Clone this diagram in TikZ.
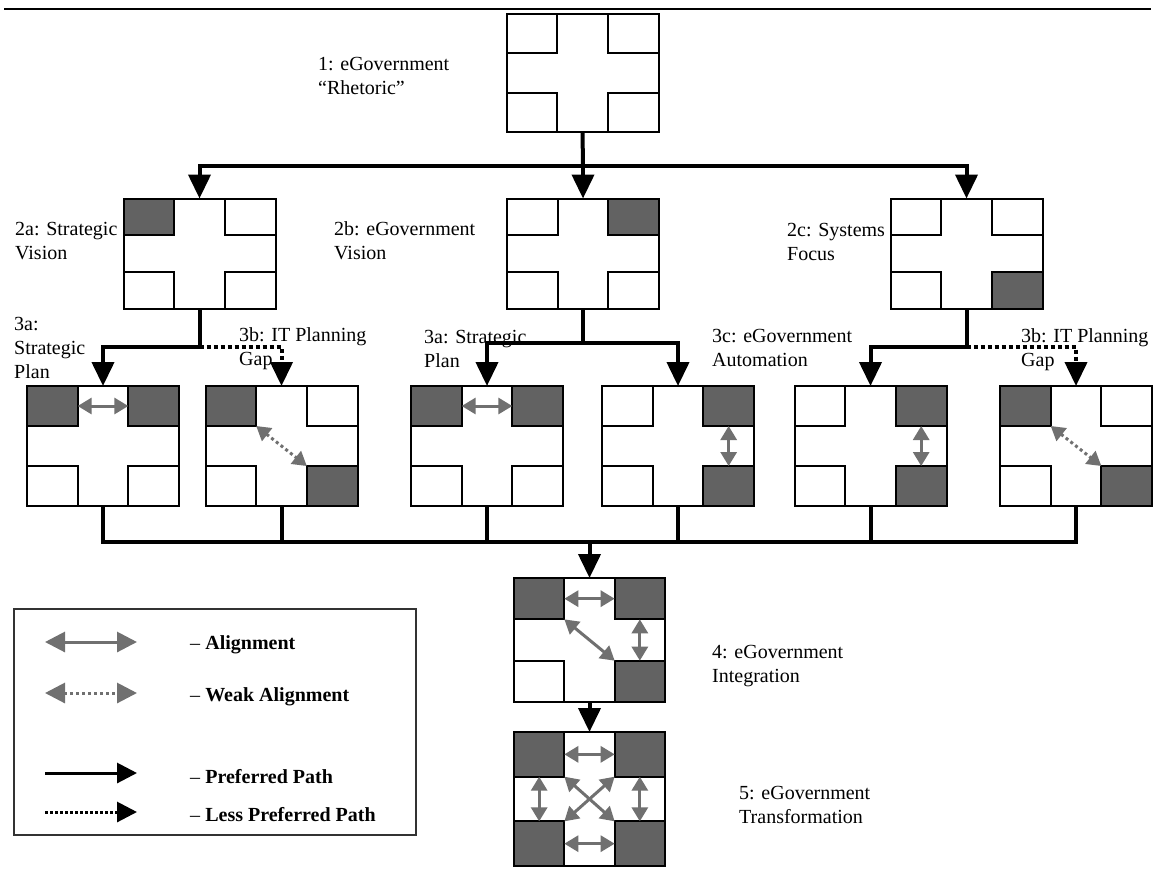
\documentclass[tikz,border=0pt]{standalone}
\usepackage{fontspec}
\setmainfont{Liberation Serif}
\usetikzlibrary{arrows.meta,calc,fit}

\definecolor{cellgray}{RGB}{98,98,98}
\definecolor{arrowgray}{RGB}{112,112,112}

\tikzset{
  qbox/.style={draw, line width=2pt, fill=white, inner sep=0pt, outer sep=0pt, minimum width=152pt},
  cell/.style={draw, line width=2pt, inner sep=0pt, outer sep=0pt},
  trunk/.style={line width=4pt},
  prefpath/.style={trunk, -{Triangle[length=24pt,width=22pt]}},
  lesspath/.style={prefpath, dash pattern=on 4pt off 3pt},
  alignarr/.style={draw=arrowgray, line width=3pt, {Triangle[length=14pt,width=16pt]}-{Triangle[length=14pt,width=16pt]}},
  weakarr/.style={alignarr, dash pattern=on 3pt off 3pt},
  lbl/.style={anchor=west, inner sep=0pt, align=left, font=\fontsize{20}{24}\selectfont},
}

% four corner cells of a box: name, then fills tl tr bl br
\newcommand{\corners}[5]{%
  \node[cell, fill=#2, fit={(#1.north west) ($(#1.north west)!1/3!(#1.south east)$)}] (#1-tl) {};
  \node[cell, fill=#3, fit={(#1.north east) ($(#1.north east)!1/3!(#1.south west)$)}] (#1-tr) {};
  \node[cell, fill=#4, fit={(#1.south west) ($(#1.south west)!1/3!(#1.north east)$)}] (#1-bl) {};
  \node[cell, fill=#5, fit={(#1.south east) ($(#1.south east)!1/3!(#1.north west)$)}] (#1-br) {};
}

\begin{document}
\begin{tikzpicture}[x=1pt,y=-1pt]
\useasboundingbox (0,0) rectangle (1155,868);
\draw[line width=1.2pt] (4,9) -- (1151,9);

% level 1 - rhetoric
\node[qbox, minimum height=118pt] (rhet) at (582.5,73) {};
\corners{rhet}{white}{white}{white}{white}
\node[lbl] (lrhet) at (318,75.5) {1: eGovernment\\“Rhetoric”};

% level 2
\node[qbox, minimum height=110pt] (sv) at (199.5,253.5) {};
\corners{sv}{cellgray}{white}{white}{white}
\node[qbox, minimum height=110pt] (gv) at (583,253.5) {};
\corners{gv}{white}{cellgray}{white}{white}
\node[qbox, minimum height=110pt] (sf) at (966.5,253.5) {};
\corners{sf}{white}{white}{white}{cellgray}
\node[lbl] (lsv) at (15,241) {2a: Strategic\\Vision};
\node[lbl] (lgv) at (334,241) {2b: eGovernment\\Vision};
\node[lbl] (lsf) at (787,242) {2c: Systems\\Focus};

% level 3
\node[qbox, minimum height=120pt] (sp1) at (103,446) {};
\corners{sp1}{cellgray}{cellgray}{white}{white}
\node[qbox, minimum height=120pt] (itg1) at (281.5,446) {};
\corners{itg1}{cellgray}{white}{white}{cellgray}
\node[qbox, minimum height=120pt] (sp2) at (487,446) {};
\corners{sp2}{cellgray}{cellgray}{white}{white}
\node[qbox, minimum height=120pt] (auto2) at (678,446) {};
\corners{auto2}{white}{cellgray}{white}{cellgray}
\node[qbox, minimum height=120pt] (auto3) at (870.5,446) {};
\corners{auto3}{white}{cellgray}{white}{cellgray}
\node[qbox, minimum height=120pt] (itg3) at (1076,446) {};
\corners{itg3}{cellgray}{white}{white}{cellgray}
\draw[alignarr] (sp1-tl.east) -- (sp1-tr.west);
\draw[weakarr] (itg1-tl.south east) -- (itg1-br.north west);
\draw[alignarr] (sp2-tl.east) -- (sp2-tr.west);
\draw[alignarr] (auto2-tr.south) -- (auto2-br.north);
\draw[alignarr] (auto3-tr.south) -- (auto3-br.north);
\draw[weakarr] (itg3-tl.south east) -- (itg3-br.north west);
\node[lbl] (lsp1) at (14,348) {3a:\\Strategic\\Plan};
\node[lbl] (litg1) at (239,348.5) {3b: IT Planning\\Gap};
\node[lbl] (lsp2) at (424,349) {3a: Strategic\\Plan};
\node[lbl] (lauto) at (712,348) {3c: eGovernment\\Automation};
\node[lbl] (litg3) at (1021,349.5) {3b: IT Planning\\Gap};

% level 4 and 5
\node[qbox, minimum width=151pt, minimum height=124pt] (integ) at (589.5,640) {};
\corners{integ}{cellgray}{cellgray}{white}{cellgray}
\draw[alignarr] (integ-tl.east) -- (integ-tr.west);
\draw[alignarr] (integ-tr.south) -- (integ-br.north);
\draw[alignarr] (integ-tl.south east) -- (integ-br.north west);
\node[lbl] (linteg) at (712,666.5) {4: eGovernment\\Integration};

\node[qbox, minimum width=151pt, minimum height=134pt] (trans) at (589.5,799) {};
\corners{trans}{cellgray}{cellgray}{cellgray}{cellgray}
\draw[alignarr] (trans-tl.east) -- (trans-tr.west);
\draw[alignarr] (trans-bl.east) -- (trans-br.west);
\draw[alignarr] (trans-tl.south) -- (trans-bl.north);
\draw[alignarr] (trans-tr.south) -- (trans-br.north);
\draw[alignarr] (trans-tl.south east) -- (trans-br.north west);
\draw[alignarr] (trans-tr.south west) -- (trans-bl.north east);
\node[lbl] (ltrans) at (739,804.5) {5: eGovernment\\Transformation};

% paths
\coordinate (j1) at (583,166);
\draw[trunk] (rhet.south) -- (j1);
\draw[prefpath] (j1) -| (sv.north);
\draw[prefpath] (j1) -- (gv.north);
\draw[prefpath] (j1) -| (sf.north);

\coordinate (j2) at (199.5,347);
\draw[trunk] (sv.south) -- (j2);
\draw[prefpath] (j2) -| (sp1.north);
\draw[lesspath] (j2) -| (itg1.north);

\coordinate (j3) at (583,343);
\draw[trunk] (gv.south) -- (j3);
\draw[prefpath] (j3) -| (sp2.north);
\draw[prefpath] (j3) -| (auto2.north);

\coordinate (j4) at (966.5,347);
\draw[trunk] (sf.south) -- (j4);
\draw[prefpath] (j4) -| (auto3.north);
\draw[lesspath] (j4) -| (itg3.north);

\coordinate (j5) at (589.5,542);
\draw[trunk] (sp1.south) |- (j5) -| (itg3.south);
\foreach \b in {itg1,sp2,auto2,auto3}
    \draw[trunk] (\b.south) -- (\b.south |- j5);
\draw[prefpath] (j5) -- (integ.north);
\draw[prefpath] (integ.south) -- (trans.north);

% legend
\draw[line width=1.2pt, draw=black!80] (14,609) rectangle (416,835);
\draw[alignarr, {Triangle[length=20pt,width=20pt]}-{Triangle[length=20pt,width=20pt]}] (45,642) -- (137,642);
\draw[weakarr, {Triangle[length=20pt,width=20pt]}-{Triangle[length=20pt,width=20pt]}] (45,693) -- (137,693);
\draw[trunk, line width=3pt, -{Triangle[length=20pt,width=20pt]}] (45,773) -- (137,773);
\draw[trunk, line width=3pt, dash pattern=on 3pt off 2pt, -{Triangle[length=20pt,width=20pt]}] (45,812) -- (137,812);
\node[lbl] (kalign) at (190,645) {-- \textbf{Alignment}};
\node[lbl] (kweak) at (190,697) {-- \textbf{Weak Alignment}};
\node[lbl] (kpref) at (190,777) {-- \textbf{Preferred Path}};
\node[lbl] (kless) at (190,815) {-- \textbf{Less Preferred Path}};
\end{tikzpicture}
\end{document}
